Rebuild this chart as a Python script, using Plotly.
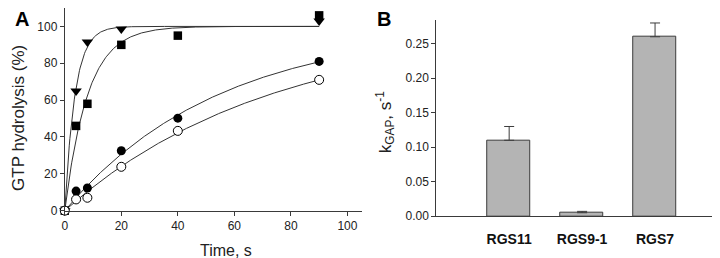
import numpy as np
import plotly.graph_objects as go

# ---------- Panel A data ----------
time_s = [0, 4, 8, 20, 40, 90]
tri_vals = [0, 65, 91.5, 98.6, None, 103]
sq_vals = [0, 46, 58, 90, 95, 106]
fcirc_vals = [0, 10.6, 12.3, 32.5, 50.2, 81]
ocirc_vals = [0, 6.1, 7.0, 23.8, 43.3, 71]

# ---------- Panel B data ----------
rgs_names = ["RGS11", "RGS9-1", "RGS7"]
kgap_vals = [0.11, 0.005, 0.26]
kgap_err = [0.02, 0.002, 0.02]

ytick_a = [0, 20, 40, 60, 80, 100]
xtick_a = [0, 20, 40, 60, 80, 100]
ytick_b = [0.0, 0.05, 0.10, 0.15, 0.20, 0.25]

W, H = 720, 258
AX = "#3a3a3a"
FONT = "Liberation Sans, Arial, sans-serif"


def fit_curve(t, y):
    """Least-squares single-exponential fit y = 100*(1-exp(-k t)) derived from the data."""
    pts = [(a, b) for a, b in zip(t, y) if b is not None]
    ta = np.array([p[0] for p in pts], float)
    ya = np.array([p[1] for p in pts], float)
    ks = np.linspace(0.001, 1.0, 20000)
    err = [np.sum((100 * (1 - np.exp(-k * ta)) - ya) ** 2) for k in ks]
    k = ks[int(np.argmin(err))]
    tt = np.linspace(0, max(ta), 400)
    return tt, 100 * (1 - np.exp(-k * tt))


fig = go.Figure()

line_style = dict(color="#333333", width=1)
series = [
    (tri_vals, dict(symbol="triangle-down", size=10, color="black")),
    (sq_vals, dict(symbol="square", size=8.5, color="black")),
    (fcirc_vals, dict(symbol="circle", size=9, color="black")),
    (ocirc_vals, dict(symbol="circle", size=9, color="white", line=dict(color="black", width=1))),
]
for vals, _ in series:
    tt, yy = fit_curve(time_s, vals)
    fig.add_trace(go.Scatter(x=tt, y=yy, mode="lines", line=line_style,
                             xaxis="x", yaxis="y", showlegend=False, hoverinfo="skip"))
for vals, mk in series:
    fig.add_trace(go.Scatter(x=time_s, y=vals, mode="markers", marker=mk,
                             xaxis="x", yaxis="y", showlegend=False, cliponaxis=False))

# Panel B
fig.add_trace(go.Bar(
    x=[0, 1, 2], y=kgap_vals, width=0.59,
    marker=dict(color="#b4b4b4", line=dict(color="#3c3c3c", width=1)),
    error_y=dict(type="data", symmetric=False, array=kgap_err, arrayminus=[0, 0, 0],
                 color="#3c3c3c", thickness=1, width=5),
    xaxis="x2", yaxis="y2", showlegend=False))

tickfont = dict(family=FONT, size=12, color="#222222")
fig.update_layout(
    width=W, height=H,
    margin=dict(l=0, r=0, t=0, b=0),
    paper_bgcolor="white", plot_bgcolor="white",
    font=dict(family=FONT, color="#222222"),
    xaxis=dict(domain=[54 / W, 352 / W], range=[0, 105], tickvals=xtick_a,
               showgrid=False, zeroline=False, showline=True, linecolor=AX, linewidth=1,
               ticks="outside", ticklen=4, tickcolor=AX, tickfont=tickfont),
    yaxis=dict(domain=[(H - 208.3) / H, 1.0], range=[0, 110], tickvals=ytick_a,
               showgrid=False, zeroline=False, showline=True, linecolor=AX, linewidth=1,
               ticks="outside", ticklen=4, tickcolor=AX, tickfont=tickfont),
    xaxis2=dict(domain=[427 / W, 1.0], range=[-1, 3], tickvals=[0, 1, 2], ticktext=rgs_names,
                showgrid=False, zeroline=False, showline=True, linecolor=AX, linewidth=1,
                ticks="", ticklabelstandoff=10,
                tickfont=dict(family=FONT, size=14, color="#111111", weight="bold"),
                anchor="y2"),
    yaxis2=dict(domain=[44 / H, (H - 12) / H], range=[0, 202 / 709.3], tickvals=ytick_b,
                tickformat=".2f",
                showgrid=False, zeroline=False, showline=True, linecolor=AX, linewidth=1,
                ticks="outside", ticklen=4, tickcolor=AX, tickfont=tickfont,
                anchor="x2"),
    bargap=0,
)

ann = [
    dict(text="<b>A</b>", x=2 / W, y=1 - 11 / H, xanchor="left", yanchor="middle",
         font=dict(family=FONT, size=20, color="black")),
    dict(text="<b>B</b>", x=366 / W, y=1 - 11 / H, xanchor="left", yanchor="middle",
         font=dict(family=FONT, size=20, color="black")),
    dict(text="Time, s", x=216 / W, y=1 - 249 / H, xanchor="center", yanchor="middle",
         font=dict(family=FONT, size=16, color="#222222")),
    dict(text="GTP hydrolysis (%)", x=8 / W, y=1 - 113 / H, xanchor="center", yanchor="middle",
         textangle=-90, font=dict(family=FONT, size=17, color="#222222")),
    dict(text="k<sub>GAP</sub>, s<sup>-1</sup>", x=376 / W, y=1 - 117 / H, xanchor="center",
         yanchor="middle", textangle=-90, font=dict(family=FONT, size=17, color="#222222")),
]
for a in ann:
    fig.add_annotation(xref="paper", yref="paper", showarrow=False, **a)

fig.write_html("out.html")
